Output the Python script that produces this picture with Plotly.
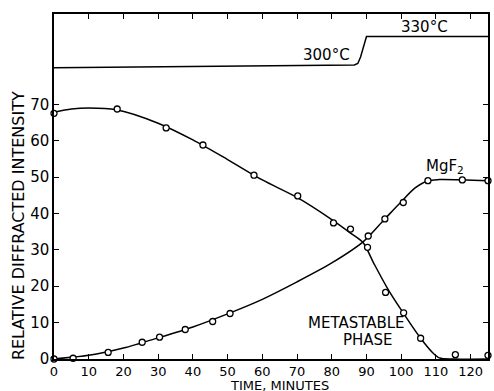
import plotly.graph_objects as go

# Metastable phase: measured points
meta_x = [0, 18.2, 32.3, 42.9, 57.6, 70.2, 80.5, 85.4, 90.3, 95.5, 100.7, 105.6, 115.6, 125]
meta_y = [67.5, 68.7, 63.5, 58.8, 50.5, 44.8, 37.4, 35.7, 30.7, 18.3, 12.7, 5.7, 1.2, 1.0]
# Metastable phase: hand-drawn smooth curve
meta_cx = [0, 5, 10, 18, 30, 40, 50, 60, 70, 80, 85.4, 89, 92, 96, 100, 105.6, 109, 111, 115, 125]
meta_cy = [67.8, 68.7, 69.0, 68.5, 64.8, 60.2, 54.8, 49.2, 44.4, 38.3, 34.6, 32.0, 26.5, 19.5, 13.5, 5.7, 1.8, 0.3, 0.0, 0.0]

# MgF2: measured points
mgf_x = [0, 5.5, 15.6, 25.4, 30.4, 37.8, 45.7, 50.7, 90.5, 95.3, 100.6, 107.7, 117.6, 125]
mgf_y = [0, 0.2, 1.8, 4.6, 6.0, 8.1, 10.3, 12.5, 33.8, 38.5, 43.0, 49.0, 49.2, 49.0]
# MgF2: smooth curve
mgf_cx = [0, 10, 20, 30, 40, 50, 60, 70, 80, 89, 95, 100, 104, 107.7, 111, 125]
mgf_cy = [0, 1.0, 3.0, 5.8, 8.8, 12.4, 16.4, 21.2, 26.4, 32.2, 38.2, 43.2, 47.0, 49.0, 49.3, 49.0]

# Temperature schedule (schematic)
temp_x = [0, 86.5, 87.5, 88.3, 90.0, 125]
temp_y = [80.0, 80.8, 81.2, 83.0, 88.6, 88.6]

x_ticks = [0, 10, 20, 30, 40, 50, 60, 70, 80, 90, 100, 110, 120]
y_ticks = [0, 10, 20, 30, 40, 50, 60, 70]

FONT = "DejaVu Sans"
fig = go.Figure()
fig.add_trace(go.Scatter(x=temp_x, y=temp_y, mode="lines",
                         line=dict(color="black", width=1.5), hoverinfo="skip"))
fig.add_trace(go.Scatter(x=meta_cx, y=meta_cy, mode="lines",
                         line=dict(color="black", width=1.5, shape="spline", smoothing=0.8)))
fig.add_trace(go.Scatter(x=mgf_cx, y=mgf_cy, mode="lines",
                         line=dict(color="black", width=1.5, shape="spline", smoothing=0.8)))
fig.add_trace(go.Scatter(x=meta_x, y=meta_y, mode="markers", cliponaxis=False,
                         marker=dict(symbol="circle", size=6, color="white",
                                     line=dict(color="black", width=1.3))))
fig.add_trace(go.Scatter(x=mgf_x, y=mgf_y, mode="markers", cliponaxis=False,
                         marker=dict(symbol="circle", size=6, color="white",
                                     line=dict(color="black", width=1.3))))

ann = dict(showarrow=False, font=dict(family=FONT, size=15, color="black"))
fig.add_annotation(x=85.8, y=83.6, text="300°C", xanchor="right", yanchor="middle", **ann)
fig.add_annotation(x=106.8, y=91.3, text="330°C", xanchor="center", yanchor="middle", **ann)
fig.add_annotation(x=112.6, y=52.8, text="MgF<sub>2</sub>", xanchor="center", yanchor="middle", **ann)
fig.add_annotation(x=87.0, y=9.9, text="METASTABLE", xanchor="center", yanchor="middle", **ann)
fig.add_annotation(x=90.3, y=5.2, text="PHASE", xanchor="center", yanchor="middle", **ann)
# axis titles
fig.add_annotation(x=0.52, y=-0.077, xref="paper", yref="paper", text="TIME, MINUTES",
                   xanchor="center", yanchor="middle", showarrow=False, borderpad=0,
                   font=dict(family=FONT, size=13, color="black"))
fig.add_annotation(x=-0.083, y=0.388, xref="paper", yref="paper",
                   text="RELATIVE DIFFRACTED INTENSITY", textangle=-90,
                   xanchor="center", yanchor="middle", showarrow=False,
                   font=dict(family=FONT, size=16, color="black"))

fig.update_layout(
    width=494, height=391,
    margin=dict(l=54, r=4, t=14, b=32),
    paper_bgcolor="white", plot_bgcolor="white",
    showlegend=False,
    font=dict(family=FONT, size=14, color="black"),
    xaxis=dict(range=[0, 125], tickvals=x_ticks, ticks="inside", ticklen=5,
               tickcolor="black", tickwidth=1.2,
               showline=True, linecolor="black", linewidth=1.5, mirror="ticks",
               showgrid=False, zeroline=False,
               tickfont=dict(family=FONT, size=13)),
    yaxis=dict(range=[0, 94.8], tickvals=y_ticks, ticks="inside", ticklen=5,
               tickcolor="black", tickwidth=1.2,
               showline=True, linecolor="black", linewidth=1.5, mirror="ticks",
               showgrid=False, zeroline=False,
               tickfont=dict(family=FONT, size=15)),
)

fig.write_html("out.html")
